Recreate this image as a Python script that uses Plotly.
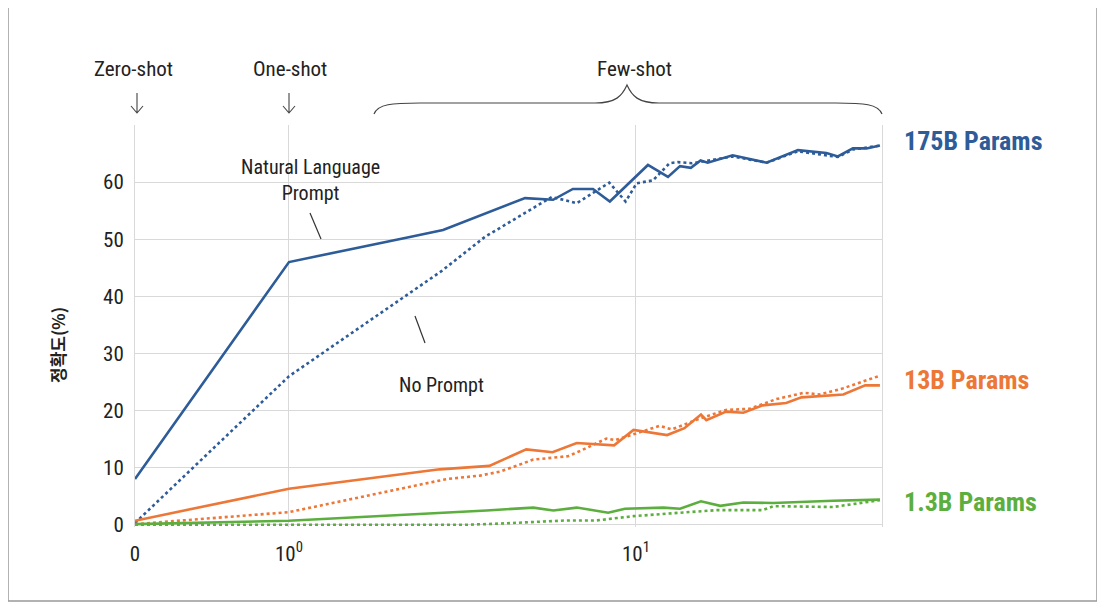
import math
import plotly.graph_objects as go

# ---------------- data ----------------
k175_nl = [0, 1, 2.23, 2.78, 4.79, 5.77, 6.58, 7.52, 8.41, 10.83, 12.37, 13.4, 14.4, 15.36, 16.1, 19.0, 23.8, 29.3, 35.4, 38.2, 42.2, 46.2, 50.5]
v175_nl = [8.0, 46.0, 50.4, 51.6, 57.2, 56.9, 58.8, 58.8, 56.6, 63.0, 60.9, 62.8, 62.5, 63.8, 63.4, 64.7, 63.4, 65.6, 65.1, 64.5, 65.9, 65.9, 66.4]

k175_np = [0, 1, 2.75, 3.67, 5.72, 6.75, 8.38, 9.34, 10.05, 11.2, 12.5, 13.2, 14.5, 19.0, 23.8, 29.3, 38.2, 42.2, 50.5]
v175_np = [0.3, 26.0, 44.4, 50.4, 57.4, 56.3, 59.9, 56.6, 59.8, 60.3, 63.3, 63.5, 63.3, 64.5, 63.4, 65.4, 64.4, 65.7, 66.4]

k13_nl = [0, 1, 2.72, 3.78, 4.83, 5.75, 6.75, 7.62, 8.65, 9.84, 12.3, 13.8, 15.4, 15.96, 18.2, 20.4, 23.2, 27.1, 30.0, 39.6, 45.8, 50.5]
v13_nl = [0.7, 6.3, 9.7, 10.3, 13.2, 12.7, 14.3, 14.1, 13.9, 16.6, 15.7, 16.9, 19.3, 18.3, 19.8, 19.6, 20.9, 21.3, 22.3, 22.8, 24.4, 24.4]

k13_np = [0, 1, 2.85, 3.55, 4.06, 5.06, 6.37, 6.9, 8.23, 8.71, 11.7, 12.7, 15.3, 18.2, 21.3, 25.4, 30.5, 33.8, 39.6, 50.5]
v13_np = [0.1, 2.2, 8.0, 8.6, 9.3, 11.4, 12.0, 12.9, 15.1, 14.8, 17.3, 16.7, 18.6, 20.1, 20.3, 22.0, 23.1, 22.8, 23.9, 26.1]

k13b_nl = [0, 1, 3.71, 5.06, 5.78, 6.75, 8.32, 9.3, 12.0, 13.4, 15.4, 17.5, 20.4, 24.9, 37.0, 50.5]
v13b_nl = [0.1, 0.7, 2.5, 3.0, 2.5, 3.0, 2.1, 2.8, 3.0, 2.8, 4.1, 3.3, 3.9, 3.8, 4.2, 4.4]

k13b_np = [0, 1, 3.3, 4.06, 6.3, 7.7, 9.84, 13.4, 17.1, 23.2, 24.9, 37.0, 41.4, 50.5]
v13b_np = [0.0, 0.0, 0.0, 0.2, 0.75, 0.75, 1.5, 2.1, 2.55, 2.55, 3.25, 3.1, 3.5, 4.3]

tick_k = [0, 1, 10]
tick_text = ["0", "10<sup>0</sup>", "10<sup>1</sup>"]
y_ticks = [0, 10, 20, 30, 40, 50, 60]
series_labels = ["175B Params", "13B Params", "1.3B Params"]
k_max = 51.2

# ---------------- styling ----------------
PAGE_OFF = 8                              # default body margin of the html page
W, H = 1105 - PAGE_OFF, 610 - PAGE_OFF
L, R, T, B = 135, 882, 125, 527          # plot area in reference-page pixels
DEC = 347 / 154                           # width of one decade relative to the 0..1 span
BLUE, ORANGE, GREEN = "#2D5C99", "#ED7737", "#5CAF3E"
FONT = "Liberation Sans Narrow, Roboto Condensed, Roboto, sans-serif"
TXT = "#222222"
GRID = "#d9d9d9"


def symlog(k):
    """linear between 0 and 1, logarithmic above 1"""
    return k if k <= 1 else 1 + math.log10(k) * DEC


def px(xp):
    return (xp - L) / (R - L)


def py(yp):
    return (B - yp) / (B - T)


fig = go.Figure()

series = [
    (k175_nl, v175_nl, BLUE, "solid"),
    (k175_np, v175_np, BLUE, "dot"),
    (k13_nl, v13_nl, ORANGE, "solid"),
    (k13_np, v13_np, ORANGE, "dot"),
    (k13b_nl, v13b_nl, GREEN, "solid"),
    (k13b_np, v13b_np, GREEN, "dot"),
]
for ks, vs, col, dash in series:
    fig.add_trace(go.Scatter(
        x=[symlog(k) for k in ks], y=vs, mode="lines",
        line=dict(color=col, width=2.6, dash=dash),
        showlegend=False, hoverinfo="skip"))

fig.update_xaxes(
    range=[0, symlog(k_max)],
    tickvals=[symlog(k) for k in tick_k], ticktext=tick_text,
    showgrid=True, gridcolor=GRID, gridwidth=1,
    zeroline=False, showline=False, ticks="",
    tickfont=dict(family=FONT, size=21, color=TXT),
    ticklabelstandoff=12,
)
fig.update_yaxes(
    range=[-0.4, 70],
    tickvals=y_ticks,
    showgrid=True, gridcolor=GRID, gridwidth=1,
    zeroline=False, showline=True, mirror=True, linecolor=GRID, linewidth=1,
    ticks="",
    tickfont=dict(family=FONT, size=21, color=TXT),
    ticklabelstandoff=6,
)

ann = []
# right labels
for lab, col, yp in zip(series_labels, [BLUE, ORANGE, GREEN], [141, 380, 502]):
    ann.append(dict(text=f"<b>{lab}</b>", x=px(902), y=py(yp), xanchor="left", yanchor="middle",
                    font=dict(family=FONT, size=26, color=col)))

# top labels
for txt, xp in [("Zero-shot", 133), ("One-shot", 290), ("Few-shot", 634)]:
    ann.append(dict(text=txt, x=px(xp), y=py(69), xanchor="center", yanchor="middle",
                    font=dict(family=FONT, size=21, color=TXT)))

ann.append(dict(text="Natural Language<br>Prompt", x=px(310), y=py(180), xanchor="center", yanchor="middle",
                align="center", font=dict(family=FONT, size=20, color=TXT)))
ann.append(dict(text="No Prompt", x=px(441), y=py(385), xanchor="center", yanchor="middle",
                font=dict(family=FONT, size=20, color=TXT)))
ann.append(dict(text="<b>정확도(%)</b>", x=px(57), y=py(345), textangle=-90, xanchor="center", yanchor="middle",
                font=dict(family="Noto Sans CJK KR", size=17, color=TXT)))
for a in ann:
    a.update(xref="paper", yref="paper", showarrow=False)

shapes = []
# thin down arrows under Zero-shot / One-shot
for xp in [137, 289]:
    arrow = (f"M {px(xp):.5f},{py(93):.5f} L {px(xp):.5f},{py(113):.5f} "
             f"M {px(xp - 6):.5f},{py(106):.5f} L {px(xp):.5f},{py(113):.5f} L {px(xp + 6):.5f},{py(106):.5f}")
    shapes.append(dict(type="path", path=arrow, line=dict(color="#444444", width=1.1)))
# pointer lines
shapes.append(dict(type="line", x0=px(310), y0=py(213), x1=px(321), y1=py(239),
                   line=dict(color="#333333", width=1.2)))
shapes.append(dict(type="line", x0=px(415), y0=py(316), x1=px(425), y1=py(343),
                   line=dict(color="#333333", width=1.2)))
# brace
pts = [("M", [(374, 114)]),
       ("C", [(378, 104), (392, 103), (420, 103)]),
       ("L", [(595, 103)]),
       ("C", [(616, 103), (622, 96), (627, 85)]),
       ("C", [(632, 96), (638, 103), (659, 103)]),
       ("L", [(836, 103)]),
       ("C", [(864, 103), (878, 104), (882, 114)])]
path = " ".join(cmd + " " + " ".join(f"{px(a):.5f},{py(b):.5f}" for a, b in p) for cmd, p in pts)
shapes.append(dict(type="path", path=path, line=dict(color="#444444", width=1.2)))
# outer frame
shapes.append(dict(type="rect", x0=px(8), y0=py(7), x1=px(1097), y1=py(601),
                   line=dict(color="#999999", width=1.5)))
for s in shapes:
    s.update(xref="paper", yref="paper")

fig.update_layout(
    width=W, height=H,
    margin=dict(l=L - PAGE_OFF, r=W + PAGE_OFF - R, t=T - PAGE_OFF, b=H + PAGE_OFF - B),
    paper_bgcolor="white", plot_bgcolor="white",
    annotations=ann, shapes=shapes,
    showlegend=False,
)

fig.write_html("out.html")
